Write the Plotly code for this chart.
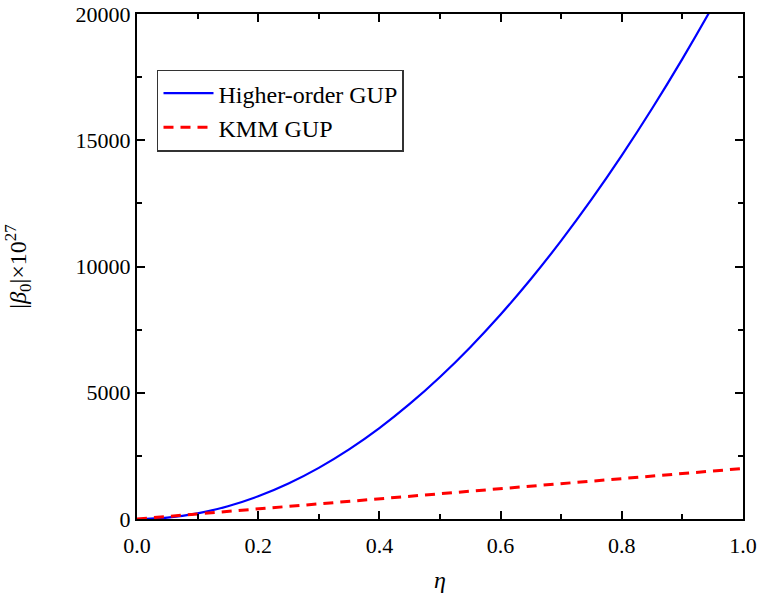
import plotly.graph_objects as go

eta = [0.0, 0.05, 0.1, 0.15, 0.2, 0.25, 0.3, 0.35, 0.4, 0.45, 0.5, 0.55, 0.6, 0.65,
       0.7, 0.75, 0.8, 0.85, 0.9, 0.95, 1.0]
higher_order = [0, 56, 225, 506, 900, 1406, 2025, 2756, 3600, 4556, 5625, 6806, 8100,
                9506, 11025, 12656, 14400, 16256, 18225, 20306, 22500]
kmm = [0, 100, 200, 300, 400, 500, 600, 700, 800, 900, 1000, 1100, 1200, 1300,
       1400, 1500, 1600, 1700, 1800, 1900, 2000]

fig = go.Figure()
fig.add_trace(go.Scatter(x=eta, y=higher_order, mode="lines", name="Higher-order GUP",
                         line=dict(color="#0000ff", width=2.2, shape="spline")))
fig.add_trace(go.Scatter(x=eta, y=kmm, mode="lines", name="KMM GUP",
                         line=dict(color="#ff0000", width=3, dash="10px,7px")))

font = "Liberation Serif, Times New Roman, serif"
axis_common = dict(showline=True, linecolor="black", linewidth=2, mirror="ticks",
                   ticks="inside", ticklen=8, tickwidth=1.5, tickcolor="black",
                   showgrid=False, zeroline=False, automargin=False,
                   tickfont=dict(family=font, size=22, color="black"))

fig.update_layout(
    width=758, height=596,
    margin=dict(l=137, r=15, t=14, b=77),
    paper_bgcolor="white", plot_bgcolor="white",
    font=dict(family=font, color="black"),
    xaxis=dict(range=[0, 1], dtick=0.2, tickformat=".1f", ticklabelstandoff=6,
               minor=dict(ticks="inside", ticklen=5, dtick=0.1, tickcolor="black", tickwidth=1.5),
               title=dict(text="<i>η</i>", font=dict(family=font, size=24), standoff=14),
               **axis_common),
    yaxis=dict(range=[0, 20000], dtick=5000, tickformat="d",
               minor=dict(ticks="inside", ticklen=5, dtick=2500, tickcolor="black", tickwidth=1.5),
               title=dict(text="|<i>β</i><sub>0</sub>|×10<sup>27</sup>", font=dict(family=font, size=24), standoff=42),
               **axis_common),
    legend=dict(x=0.033, y=0.89, xanchor="left", yanchor="top",
                bgcolor="white", bordercolor="#333333", borderwidth=1.5,
                font=dict(family=font, size=24, color="black"),
                itemwidth=50, tracegroupgap=0),
    showlegend=True,
)

fig.write_html("out.html", config={"displayModeBar": False},
               post_script="document.body.style.margin='0';document.body.style.overflow='hidden';")
